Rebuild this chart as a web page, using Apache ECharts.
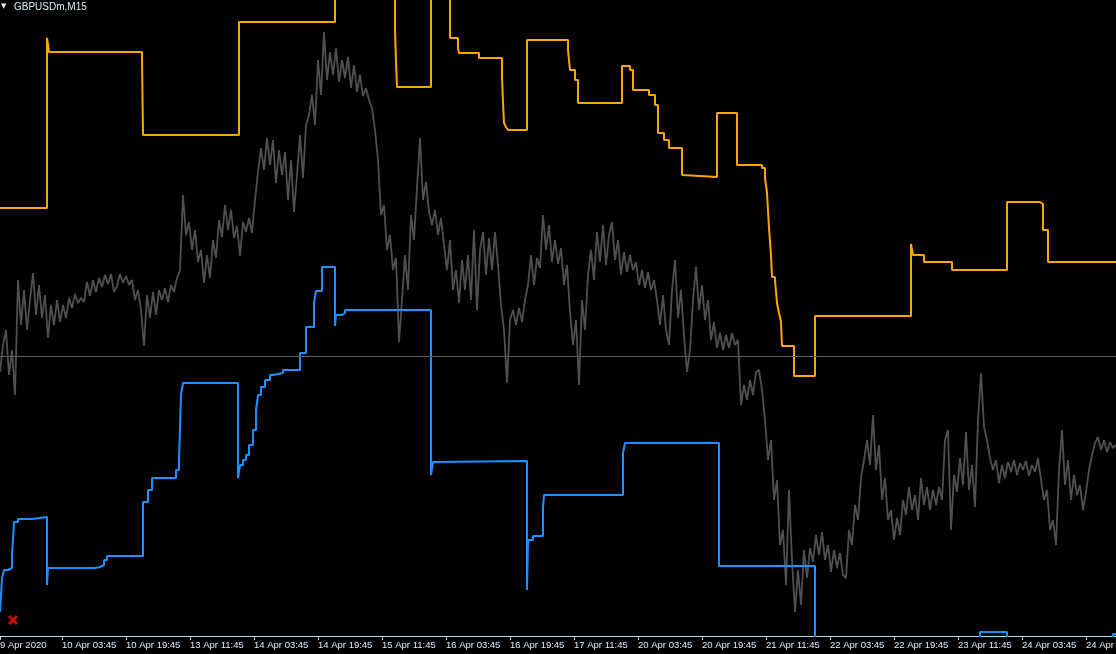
<!DOCTYPE html>
<html>
<head>
<meta charset="utf-8">
<script src="https://cdn.jsdelivr.net/npm/echarts@6/dist/echarts.min.js"></script>
<style>
html,body{margin:0;padding:0;background:#000;}
#chart{width:1116px;height:654px;}
</style>
</head>
<body>
<div id="chart"></div>
<script>
// ---- data ----
const symbolTitle = 'GBPUSDm,M15';
// x = bar index (M15 bars), tick labels at these bars
const tickBars = [0, 62, 126, 190, 254, 318, 382, 446, 510, 574, 638, 702, 766, 830, 894, 958, 1022, 1086];
const tickLabels = ['9 Apr 2020', '10 Apr 03:45', '10 Apr 19:45', '13 Apr 11:45', '14 Apr 03:45', '14 Apr 19:45',
  '15 Apr 11:45', '16 Apr 03:45', '16 Apr 19:45', '17 Apr 11:45', '20 Apr 03:45', '20 Apr 19:45',
  '21 Apr 11:45', '22 Apr 03:45', '22 Apr 19:45', '23 Apr 11:45', '24 Apr 03:45', '24 Apr 19:45'];

// price (close) sampled every 3 bars starting at bar 0
const priceStep = 3;
const price = [
1.2328,1.2355,1.2370,1.2325,1.2350,1.2305,1.2420,1.2375,1.2410,1.2370,1.2400,1.2427,1.2385,1.2415,1.2382,1.2405,1.2362,1.2395,1.2375,1.2400,
1.2378,1.2395,1.2382,1.2402,1.2392,1.2406,1.2397,1.2402,1.2398,1.2418,1.2404,1.2420,1.2408,1.2422,1.2413,1.2425,1.2416,1.2426,1.2408,1.2414,
1.2426,1.2417,1.2424,1.2415,1.2420,1.2400,1.2410,1.2390,1.2354,1.2405,1.2382,1.2408,1.2385,1.2410,1.2400,1.2412,1.2398,1.2415,1.2408,1.2422,
1.2430,1.2505,1.2465,1.2478,1.2450,1.2470,1.2438,1.2450,1.2417,1.2445,1.2422,1.2460,1.2442,1.2480,1.2463,1.2495,1.2470,1.2490,1.2462,1.2474,
1.2444,1.2478,1.2468,1.2482,1.2467,1.2500,1.2528,1.2552,1.2530,1.2562,1.2535,1.2560,1.2517,1.2550,1.2525,1.2548,1.2500,1.2540,1.2488,1.2525,
1.2565,1.2522,1.2575,1.2585,1.2605,1.2575,1.2640,1.2605,1.2668,1.2620,1.2648,1.2625,1.2652,1.2618,1.2640,1.2622,1.2643,1.2612,1.2635,1.2608,
1.2625,1.2604,1.2612,1.2600,1.2592,1.2570,1.2540,1.2485,1.2495,1.2450,1.2465,1.2430,1.2442,1.2358,1.2400,1.2445,1.2410,1.2485,1.2460,1.2512,
1.2562,1.2500,1.2518,1.2488,1.2475,1.2490,1.2465,1.2482,1.2455,1.2430,1.2460,1.2410,1.2430,1.2397,1.2440,1.2410,1.2445,1.2400,1.2470,1.2390,
1.2450,1.2468,1.2425,1.2462,1.2430,1.2468,1.2435,1.2395,1.2370,1.2317,1.2380,1.2390,1.2375,1.2392,1.2378,1.2400,1.2415,1.2445,1.2415,1.2442,
1.2432,1.2485,1.2450,1.2475,1.2438,1.2460,1.2436,1.2452,1.2415,1.2435,1.2388,1.2355,1.2380,1.2315,1.2400,1.2370,1.2425,1.2450,1.2420,1.2468,
1.2438,1.2475,1.2435,1.2465,1.2478,1.2440,1.2460,1.2425,1.2448,1.2428,1.2445,1.2430,1.2438,1.2415,1.2430,1.2412,1.2428,1.2410,1.2420,1.2400,
1.2375,1.2405,1.2370,1.2355,1.2410,1.2440,1.2382,1.2410,1.2365,1.2328,1.2350,1.2400,1.2433,1.2390,1.2415,1.2380,1.2400,1.2360,1.2378,1.2352,
1.2367,1.2350,1.2365,1.2352,1.2367,1.2355,1.2360,1.2295,1.2315,1.2300,1.2320,1.2305,1.2328,1.2330,1.2310,1.2280,1.2240,1.2260,1.2200,1.2220,
1.2155,1.2170,1.2115,1.2210,1.2140,1.2088,1.2130,1.2095,1.2150,1.2122,1.2152,1.2138,1.2165,1.2145,1.2168,1.2140,1.2155,1.2128,1.2150,1.2132,
1.2147,1.2125,1.2122,1.2170,1.2155,1.2195,1.2180,1.2222,1.2240,1.2260,1.2235,1.2285,1.2230,1.2255,1.2200,1.2222,1.2180,1.2190,1.2160,1.2182,
1.2165,1.2200,1.2185,1.2213,1.2190,1.2205,1.2180,1.2222,1.2195,1.2213,1.2190,1.2210,1.2195,1.2213,1.2200,1.2260,1.2270,1.2170,1.2225,1.2208,
1.2242,1.2215,1.2268,1.2210,1.2235,1.2193,1.2280,1.2327,1.2273,1.2260,1.2242,1.2230,1.2240,1.2217,1.2235,1.2222,1.2238,1.2228,1.2240,1.2225,
1.2237,1.2230,1.2239,1.2224,1.2235,1.2228,1.2242,1.2220,1.2200,1.2210,1.2170,1.2180,1.2155,1.2230,1.2270,1.2215,1.2240,1.2200,1.2225,1.2205,
1.2215,1.2190,1.2208,1.2230,1.2245,1.2257,1.2263,1.2250,1.2260,1.2248,1.2258,1.2252,1.2255
];

// upper band (orange): bar where each level starts, level
const upperBars = [0, 47, 49, 142, 143, 239, 335, 395, 396, 397, 431, 450, 458, 459, 479, 502, 503, 504, 506, 508,
  527, 568, 570, 575, 578, 622, 630, 633, 649, 655, 658, 664, 669, 682, 684, 717, 737, 762, 765, 767,
  769, 771, 772, 775, 777, 779, 781, 782, 794, 815, 911, 913, 924, 952, 1007, 1040, 1043, 1048, 1116];
const upperLevels = [1.2492, 1.2662, 1.2648, 1.2642, 1.2565, 1.2678, 1.2740, 1.2670, 1.2638, 1.2613, 1.2740, 1.2662, 1.2652, 1.2647, 1.2642, 1.2622, 1.2598, 1.2577, 1.2573, 1.2570,
  1.2660, 1.2650, 1.2630, 1.2620, 1.2597, 1.2634, 1.2630, 1.2610, 1.2605, 1.2595, 1.2567, 1.2560, 1.2552, 1.2525, 1.2523, 1.2587, 1.2535, 1.2532, 1.2522, 1.2507,
  1.2472, 1.2445, 1.2423, 1.2420, 1.2397, 1.2387, 1.2378, 1.2354, 1.2324, 1.2384, 1.2456, 1.2445, 1.2438, 1.2430, 1.2498, 1.2496, 1.2470, 1.2438, 1.2438];

// lower band (blue)
const lowerBars = [0, 2, 4, 8, 12, 14, 18, 32, 47, 48, 95, 100, 104, 107, 143, 148, 152, 176, 179, 181,
  183, 238, 240, 243, 246, 249, 253, 256, 258, 261, 265, 270, 273, 283, 300, 306, 314, 316, 322, 335,
  336, 342, 345, 431, 433, 435, 527, 528, 533, 543, 544, 623, 625, 719, 815, 980, 1007, 1113, 1116];
const lowerLevels = [1.2088, 1.2122, 1.2130, 1.2132, 1.2145, 1.2178, 1.2181, 1.2183, 1.2115, 1.2132, 1.2133, 1.2135, 1.2140, 1.2144, 1.2198, 1.2210, 1.2222, 1.2230, 1.2240, 1.2305,
  1.2317, 1.2222, 1.2235, 1.2240, 1.2245, 1.2255, 1.2270, 1.2290, 1.2305, 1.2313, 1.2320, 1.2325, 1.2327, 1.2330, 1.2347, 1.2373, 1.2397, 1.2409, 1.2433, 1.2374,
  1.2385, 1.2387, 1.2390, 1.2225, 1.2238, 1.2239, 1.2110, 1.2160, 1.2164, 1.2192, 1.2205, 1.2247, 1.2257, 1.2134, 1.1980, 1.2068, 1.1980, 1.2066, 1.2066];

const hLineLevel = 1.2344;
const closeMarker = [13, 1.2080];

const priceMin = 1.2064, priceMax = 1.2700;

// ---- chart ----
const fg = '#d8f0fa';
const axisCol = '#a9dceb';
const chart = echarts.init(document.getElementById('chart'), null, {renderer: 'canvas'});
const pricePts = price.map((v, i) => [i * priceStep, v]);
const upperPts = upperBars.map((b, i) => [b, upperLevels[i]]);
const lowerPts = lowerBars.map((b, i) => [b, lowerLevels[i]]);

chart.setOption({
  backgroundColor: '#000000',
  animation: false,
  title: [
    {text: '▼', left: 1, top: 3, padding: 0, textStyle: {color: fg, fontSize: 7, fontWeight: 'normal', fontFamily: 'DejaVu Sans'}},
    {text: symbolTitle, left: 14, top: 2, padding: 0, textStyle: {color: fg, fontSize: 10, fontWeight: 'normal', fontFamily: 'Liberation Sans'}}
  ],
  grid: {left: 0, right: 0, top: 0, bottom: 18, containLabel: false, outerBoundsMode: 'none'},
  xAxis: {
    type: 'value', min: 0, max: 1116,
    splitLine: {show: false},
    axisLine: {show: true, lineStyle: {color: axisCol, width: 1}},
    axisTick: {show: true, inside: false, length: 4, lineStyle: {color: axisCol}, customValues: tickBars},
    axisLabel: {
      customValues: tickBars, hideOverlap: false,
      color: fg, fontSize: 9.5, fontFamily: 'Liberation Sans', align: 'left', margin: 4,
      formatter: function (v) { const k = tickBars.indexOf(v); return k >= 0 ? tickLabels[k] : ''; }
    }
  },
  yAxis: {type: 'value', min: priceMin, max: priceMax, show: false, splitLine: {show: false}},
  series: [
    {
      type: 'line', data: pricePts, symbol: 'none', clip: true,
      lineStyle: {color: '#505050', width: 1.8},
      markLine: {
        silent: true, symbol: ['none', 'none'], label: {show: false}, precision: 4,
        lineStyle: {color: '#5c5c5c', width: 1, type: 'solid'},
        data: [{yAxis: hLineLevel}]
      },
      z: 2
    },
    {type: 'line', data: upperPts, step: 'end', symbol: 'none', clip: true, lineStyle: {color: '#FFA500', width: 2}, z: 3},
    {type: 'line', data: lowerPts, step: 'end', symbol: 'none', clip: true, lineStyle: {color: '#1E90FF', width: 2}, z: 3},
    {
      type: 'scatter', data: [closeMarker], symbolSize: 10,
      symbol: 'path://M2,0L5,3L8,0L10,2L7,5L10,8L8,10L5,7L2,10L0,8L3,5L0,2Z',
      itemStyle: {color: '#ff1010'}, z: 4
    }
  ]
});
</script>
</body>
</html>
